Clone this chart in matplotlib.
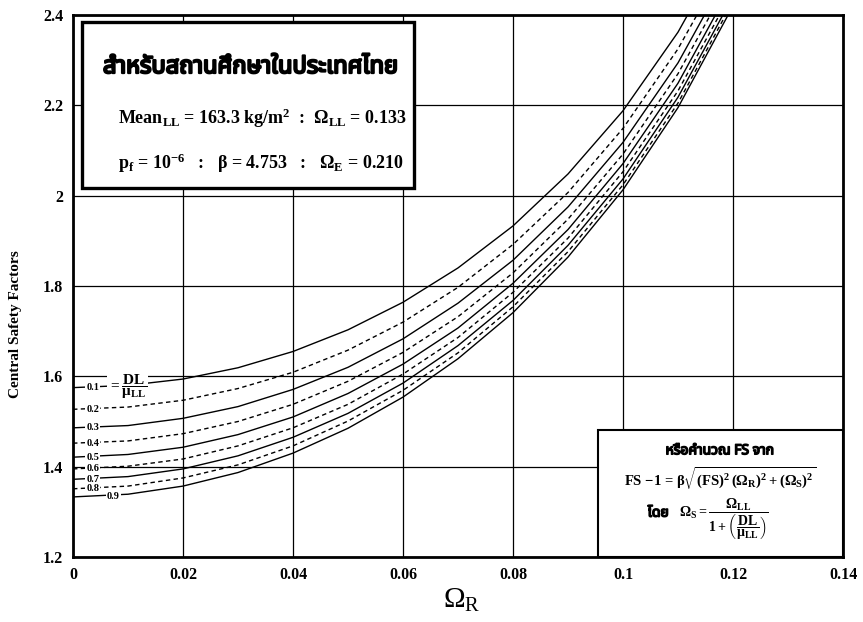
import matplotlib
matplotlib.use("Agg")
import matplotlib.pyplot as plt
import matplotlib.patheffects as pe
from matplotlib.patches import Rectangle

# Central safety factor FS versus resistance COV (Omega_R), one curve per DL/mu_LL ratio
omega_r = [0.0, 0.01, 0.02, 0.03, 0.04, 0.05, 0.06, 0.07, 0.08, 0.09, 0.10, 0.11, 0.12]

ratios = ["0.1", "0.2", "0.3", "0.4", "0.5", "0.6", "0.7", "0.8", "0.9"]

fs_01 = [1.575, 1.580, 1.594, 1.619, 1.655, 1.703, 1.764, 1.840, 1.933, 2.048, 2.188, 2.362, 2.580]
fs_02 = [1.527, 1.532, 1.547, 1.573, 1.609, 1.658, 1.720, 1.797, 1.892, 2.007, 2.149, 2.325, 2.543]
fs_03 = [1.486, 1.491, 1.507, 1.533, 1.571, 1.620, 1.683, 1.762, 1.857, 1.975, 2.118, 2.294, 2.514]
fs_04 = [1.452, 1.457, 1.473, 1.500, 1.538, 1.589, 1.653, 1.732, 1.829, 1.948, 2.092, 2.270, 2.491]
fs_05 = [1.421, 1.427, 1.443, 1.471, 1.510, 1.562, 1.627, 1.707, 1.806, 1.925, 2.071, 2.249, 2.471]
fs_06 = [1.395, 1.401, 1.417, 1.446, 1.486, 1.538, 1.605, 1.686, 1.786, 1.906, 2.053, 2.232, 2.455]
fs_07 = [1.372, 1.378, 1.395, 1.424, 1.465, 1.518, 1.585, 1.668, 1.768, 1.890, 2.037, 2.218, 2.441]
fs_08 = [1.351, 1.357, 1.375, 1.404, 1.446, 1.501, 1.569, 1.652, 1.754, 1.876, 2.024, 2.205, 2.430]
fs_09 = [1.333, 1.339, 1.357, 1.387, 1.430, 1.485, 1.554, 1.639, 1.741, 1.864, 2.013, 2.195, 2.420]

curves = [fs_01, fs_02, fs_03, fs_04, fs_05, fs_06, fs_07, fs_08, fs_09]

x_ticks = [0, 0.02, 0.04, 0.06, 0.08, 0.10, 0.12, 0.14]
x_tick_labels = ["0", "0.02", "0.04", "0.06", "0.08", "0.1", "0.12", "0.14"]
y_ticks = [1.2, 1.4, 1.6, 1.8, 2.0, 2.2, 2.4]
y_tick_labels = ["1.2", "1.4", "1.6", "1.8", "2", "2.2", "2.4"]

plt.rcParams["font.family"] = ["Liberation Serif", "DejaVu Serif"]
plt.rcParams["mathtext.fontset"] = "custom"
plt.rcParams["mathtext.rm"] = "Liberation Serif:bold"
plt.rcParams["mathtext.it"] = "Liberation Serif:bold"
plt.rcParams["mathtext.bf"] = "Liberation Serif:bold"
plt.rcParams["mathtext.default"] = "regular"

THAI = ["Noto Sans Thai", "Noto Serif Thai", "Loma", "Garuda", "Norasi", "Tlwg Typo",
        "Kinnari", "Waree", "Laksaman", "DejaVu Sans"]
thai_bold = [pe.withStroke(linewidth=1.1, foreground="black")]

fig = plt.figure(figsize=(8.63, 6.22), dpi=100)
ax = fig.add_axes([73 / 863, 65 / 622, 770 / 863, 542 / 622])

for i, (lab, fs) in enumerate(zip(ratios, curves)):
    style = "-" if i % 2 == 0 else (0, (3.2, 2.4))
    ax.plot(omega_r, fs, color="black", lw=1.0, linestyle=style, zorder=3)

ax.set_xlim(0, 0.14)
ax.set_ylim(1.2, 2.4)
ax.set_xticks(x_ticks)
ax.set_xticklabels(x_tick_labels)
ax.set_yticks(y_ticks)
ax.set_yticklabels(y_tick_labels)
ax.tick_params(length=0, labelsize=11.5, pad=7)
for t in ax.get_xticklabels() + ax.get_yticklabels():
    t.set_fontweight("bold")
ax.grid(True, color="black", lw=0.9, zorder=1)
ax.set_axisbelow(True)
for s in ax.spines.values():
    s.set_linewidth(2.0)

ax.set_ylabel("Central Safety Factors", fontsize=11, fontweight="bold")
ax.yaxis.set_label_coords(-0.066, 0.43)
ax.set_xlabel(r"$\Omega_{R}$", fontsize=21, fontweight="normal")
ax.xaxis.set_label_coords(0.505, -0.055)

# curve labels at the left end of each curve
label_x = [0.0024] * 8 + [0.0062]
for i, (lab, fs) in enumerate(zip(ratios, curves)):
    ax.text(label_x[i], fs[0], lab, fontsize=7.5, fontweight="bold", ha="left", va="center",
            zorder=5, bbox=dict(boxstyle="square,pad=0.1", fc="white", ec="none"))
ax.text(0.0064, curves[0][0] + 0.003, r"$=\dfrac{DL}{\mu_{LL}}$", fontsize=11,
        fontweight="bold", ha="left", va="center", zorder=5,
        bbox=dict(boxstyle="square,pad=0.05", fc="white", ec="none"))

# parameter box
ax.add_patch(Rectangle((0.0117, 0.681), 0.431, 0.306, transform=ax.transAxes,
                       fc="white", ec="black", lw=2.4, zorder=6))
ax.text(0.23, 0.904, "สำหรับสถานศึกษาในประเทศไทย", transform=ax.transAxes,
        fontsize=17, fontweight="bold", family=THAI, ha="center", va="center", zorder=7,
        path_effects=[pe.withStroke(linewidth=1.6, foreground="black")])
ax.text(0.058, 0.81, r"Mean$_{LL}$ = 163.3 kg/m$^{2}$  :  Ω$_{LL}$ = 0.133",
        transform=ax.transAxes, fontsize=13, fontweight="bold", ha="left", va="center", zorder=7)
ax.text(0.058, 0.727, r"p$_{f}$ = 10$^{-6}$   :   β = 4.753   :   Ω$_{E}$ = 0.210",
        transform=ax.transAxes, fontsize=13, fontweight="bold", ha="left", va="center", zorder=7)

# formula box
ax.add_patch(Rectangle((0.682, 0.0), 0.318, 0.234, transform=ax.transAxes,
                       fc="white", ec="black", lw=1.5, zorder=6))
ax.text(0.84, 0.196, "หรือคำนวณ FS จาก", transform=ax.transAxes, fontsize=10,
        fontweight="bold", family=THAI, ha="center", va="center", zorder=7,
        path_effects=thai_bold)
ax.text(0.841, 0.145, r"FS $-$1 = β$\sqrt{(FS)^{2}\,(\Omega_{R})^{2}+(\Omega_{S})^{2}}$",
        transform=ax.transAxes, fontsize=10.5, fontweight="bold", ha="center", va="center", zorder=7)
ax.text(0.76, 0.081, "โดย", transform=ax.transAxes, fontsize=10, fontweight="bold",
        family=THAI, ha="center", va="center", zorder=7, path_effects=thai_bold)
ax.text(0.787, 0.07, r"$\Omega_{S}=\dfrac{\Omega_{LL}}{1+\left(\dfrac{DL}{\mu_{LL}}\right)}$",
        transform=ax.transAxes, fontsize=10, fontweight="bold", ha="left", va="center", zorder=7)

fig.savefig("out.png", dpi=100)
